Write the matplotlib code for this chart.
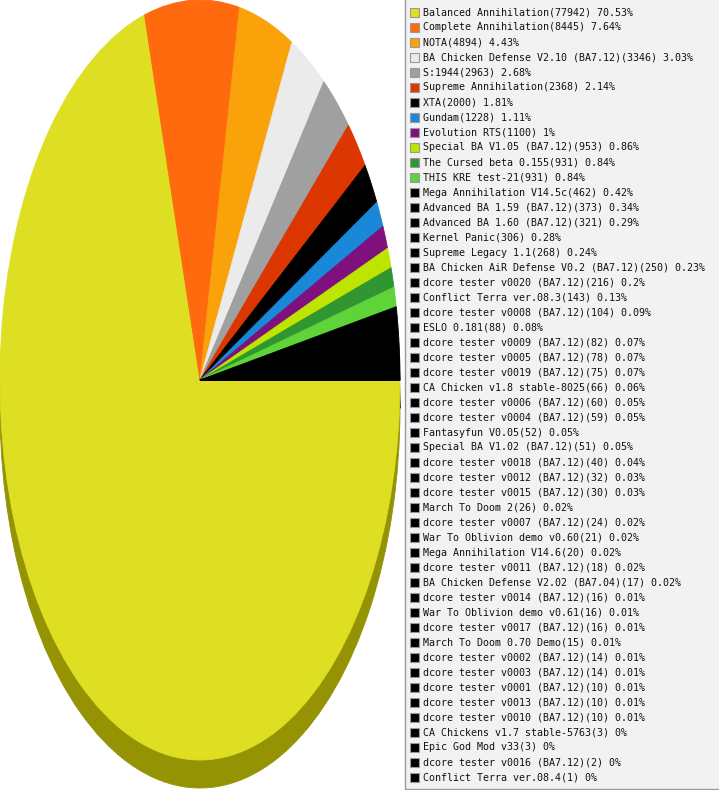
"""
Pie chart of mod usage share with a legend box on the right.
"""
import matplotlib
matplotlib.use('Agg')
import matplotlib.pyplot as plt
from matplotlib.patches import Rectangle
from matplotlib.colors import to_rgb

mods = ['Balanced Annihilation', 'Complete Annihilation', 'NOTA',
        'BA Chicken Defense V2.10 (BA7.12)', 'S:1944', 'Supreme Annihilation',
        'XTA', 'Gundam', 'Evolution RTS', 'Special BA V1.05 (BA7.12)',
        'The Cursed beta 0.155', 'THIS KRE test-21', 'Mega Annihilation V14.5c',
        'Advanced BA 1.59 (BA7.12)', 'Advanced BA 1.60 (BA7.12)', 'Kernel Panic',
        'Supreme Legacy 1.1', 'BA Chicken AiR Defense V0.2 (BA7.12)',
        'dcore tester v0020 (BA7.12)', 'Conflict Terra ver.08.3',
        'dcore tester v0008 (BA7.12)', 'ESLO 0.181', 'dcore tester v0009 (BA7.12)',
        'dcore tester v0005 (BA7.12)', 'dcore tester v0019 (BA7.12)',
        'CA Chicken v1.8 stable-8025', 'dcore tester v0006 (BA7.12)',
        'dcore tester v0004 (BA7.12)', 'Fantasyfun V0.05', 'Special BA V1.02 (BA7.12)',
        'dcore tester v0018 (BA7.12)', 'dcore tester v0012 (BA7.12)',
        'dcore tester v0015 (BA7.12)', 'March To Doom 2', 'dcore tester v0007 (BA7.12)',
        'War To Oblivion demo v0.60', 'Mega Annihilation V14.6',
        'dcore tester v0011 (BA7.12)', 'BA Chicken Defense V2.02 (BA7.04)',
        'dcore tester v0014 (BA7.12)', 'War To Oblivion demo v0.61',
        'dcore tester v0017 (BA7.12)', 'March To Doom 0.70 Demo',
        'dcore tester v0002 (BA7.12)', 'dcore tester v0003 (BA7.12)',
        'dcore tester v0001 (BA7.12)', 'dcore tester v0013 (BA7.12)',
        'dcore tester v0010 (BA7.12)', 'CA Chickens v1.7 stable-5763',
        'Epic God Mod v33', 'dcore tester v0016 (BA7.12)', 'Conflict Terra ver.08.4']
counts = [77942, 8445, 4894, 3346, 2963, 2368, 2000, 1228, 1100, 953, 931, 931, 462,
          373, 321, 306, 268, 250, 216, 143, 104, 88, 82, 78, 75, 66, 60, 59, 52, 51,
          40, 32, 30, 26, 24, 21, 20, 18, 17, 16, 16, 16, 15, 14, 14, 10, 10, 10,
          3, 3, 2, 1]
percents = ['70.53', '7.64', '4.43', '3.03', '2.68', '2.14', '1.81', '1.11', '1',
            '0.86', '0.84', '0.84', '0.42', '0.34', '0.29', '0.28', '0.24', '0.23',
            '0.2', '0.13', '0.09', '0.08', '0.07', '0.07', '0.07', '0.06', '0.05',
            '0.05', '0.05', '0.05', '0.04', '0.03', '0.03', '0.02', '0.02', '0.02',
            '0.02', '0.02', '0.02', '0.01', '0.01', '0.01', '0.01', '0.01', '0.01',
            '0.01', '0.01', '0.01', '0', '0', '0', '0']
top_colors = ['#dede22', '#ff6a0f', '#f9a20a', '#ebebeb', '#a0a0a0', '#dc3700',
              '#000000', '#1a88d9', '#7f117f', '#bde500', '#2f9632', '#5fd33a']
colors = top_colors + ['#000000'] * (len(counts) - len(top_colors))
# darker copy for the "3d" rim under the pie
shadow_colors = [(r * 0.66, g * 0.66, b * 0.1) for r, g, b in map(to_rgb, colors)]

W, H = 719, 790
fig = plt.figure(figsize=(W / 100, H / 100), dpi=100)
fig.patch.set_facecolor('white')

# pie ellipse: x 0..400, y 0..760 px, shadow 28px lower
ax = fig.add_axes([0, (H - 760) / H, 400 / W, 760 / H])
shift = 28 / 380
shadow, _ = ax.pie(counts, colors=shadow_colors, startangle=0, counterclock=False,
                   center=(0, -shift), frame=False)
wedges, _ = ax.pie(counts, colors=colors, startangle=0, counterclock=False,
                   frame=False)
for w in shadow + wedges:
    w.set_clip_on(False)
    w.set_edgecolor(w.get_facecolor())
    w.set_linewidth(0.6)
ax.set_aspect('auto')
ax.set_xlim(-1, 1)
ax.set_ylim(-1, 1)
ax.axis('off')

# legend overlay in pixel coords
lax = fig.add_axes([0, 0, 1, 1])
lax.set_xlim(0, W)
lax.set_ylim(H, 0)
lax.axis('off')
lax.add_patch(Rectangle((405, -2), 320, 791, facecolor='#f2f2f2',
                        edgecolor='#999999', linewidth=1))
for i, (name, cnt, pct) in enumerate(zip(mods, counts, percents)):
    y = 12 + 15 * i
    lax.add_patch(Rectangle((410, y - 4.5), 9, 9, facecolor=colors[i],
                            edgecolor='#999999', linewidth=0.8))
    lax.text(423, y + 0.5, f'{name}({cnt}) {pct}%', fontsize=7.2,
             family='DejaVu Sans Mono', color='#111111', va='center', ha='left')

fig.savefig('out.png', dpi=100)
